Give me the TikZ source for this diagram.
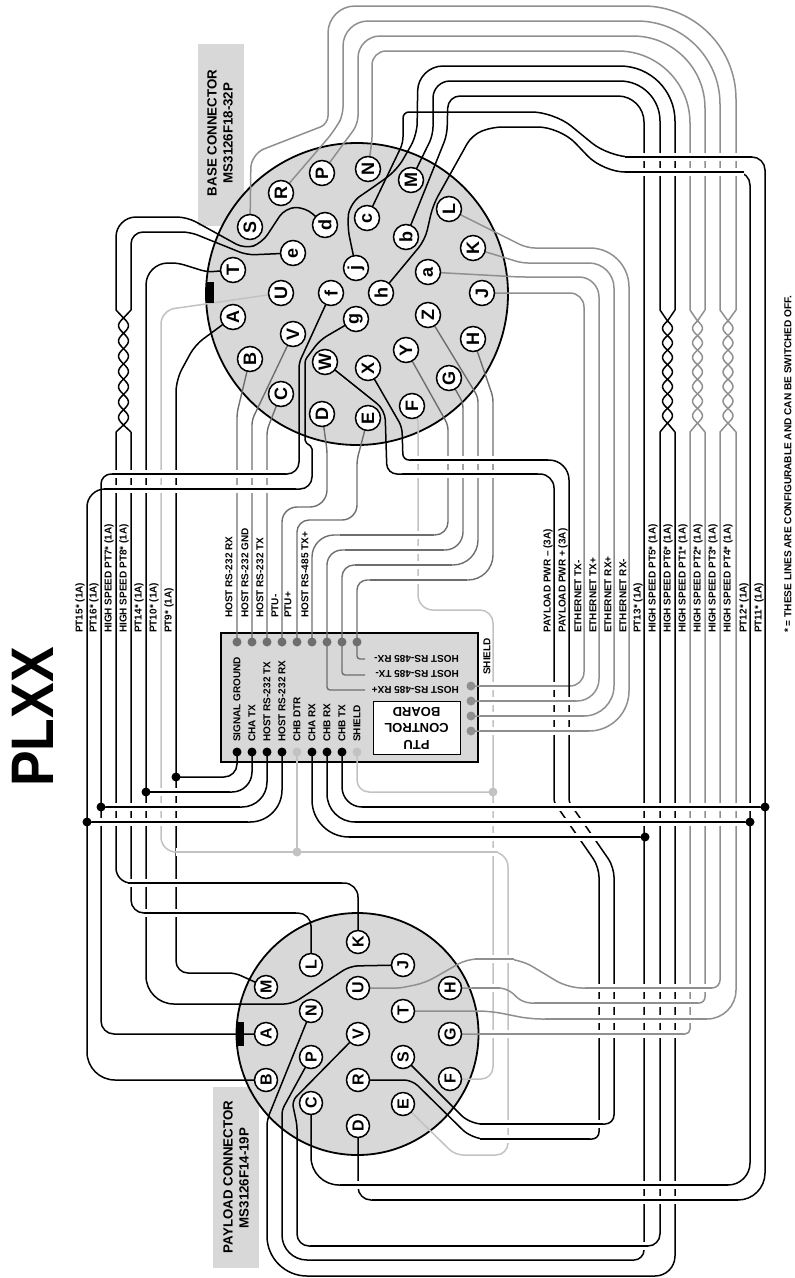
\documentclass[tikz,border=0pt]{standalone}
\usepackage{fontspec}
\setmainfont{Liberation Sans}
\pgfdeclarelayer{bg}\pgfdeclarelayer{wires}\pgfdeclarelayer{runs}
\pgfsetlayers{bg,wires,runs,main}
\definecolor{disc}{HTML}{D8D8D8}
\definecolor{gline}{HTML}{8F8F8F}
\definecolor{mline}{HTML}{6E6E6E}
\definecolor{lline}{HTML}{C2C2C2}
\tikzset{
 blk/.style={draw=black,line width=1.5pt},
 gry/.style={draw=gline,line width=1.5pt},
 mid/.style={draw=mline,line width=1.4pt},
 lgt/.style={draw=lline,line width=1.5pt},
 rc/.style={rounded corners=#1pt},
 halo/.style={draw=white,line width=8pt},
 bpin/.style={circle,draw=black,fill=white,line width=1.5pt,minimum size=25pt,inner sep=0pt,rotate=90,font=\fontsize{18}{18}\selectfont\bfseries},
 ppin/.style={circle,draw=black,fill=white,line width=1.5pt,minimum size=23pt,inner sep=0pt,rotate=90,font=\fontsize{16}{16}\selectfont\bfseries},
 jdot/.style={circle,fill=black,minimum size=9pt,inner sep=0pt},
 pdot/.style={circle,fill=#1,minimum size=9pt,inner sep=0pt},
 lab/.style={rotate=90,anchor=west,inner sep=0pt,font=\fontsize{10}{12}\selectfont\bfseries},
 ttl/.style={rotate=90,inner sep=0pt,font=\fontsize{13.3}{15}\selectfont\bfseries},
 flip/.style={rotate=180,anchor=west,inner sep=0pt,font=\fontsize{10}{12}\selectfont\bfseries},
}
\newcommand\hrun[3]{\draw[halo] (#2)--(#3); \draw[#1] (#2)--(#3);}
\newcommand\twist[7]{\pgfmathsetmacro\tc{(#1+#2)/2}%
 \draw[#3] (#1,#4)--(\tc,#5) (#2,#4)--(\tc,#5) (#1,#7)--(\tc,#6) (#2,#7)--(\tc,#6);
 \draw[#3] plot[smooth,domain=0:7,samples=50] ({\tc+5*sin(180*\x)},{#5+\x*(#6-#5)/7});
 \draw[#3] plot[smooth,domain=0:7,samples=50] ({\tc-5*sin(180*\x)},{#5+\x*(#6-#5)/7});}
\begin{document}
\begin{tikzpicture}[x=1pt,y=-1pt]
\useasboundingbox (0,0) rectangle (795,1278);
\begin{pgfonlayer}{bg}
 \fill[disc] (198,44) rectangle (244,226);
 \fill[disc] (213,1087) rectangle (259,1268);
 \node[circle,draw=black,fill=disc,line width=1.8pt,minimum size=302pt,inner sep=0pt] (basedisc) at (357,294) {};
 \node[circle,draw=black,fill=disc,line width=1.8pt,minimum size=242pt,inner sep=0pt] (paydisc) at (357.5,1034) {};
 \draw[fill=disc,draw=black,line width=1.6pt] (221,633) rectangle (478,762);
\end{pgfonlayer}
% titles
\node[rotate=90,inner sep=0pt,xscale=.89,font=\fontsize{60}{60}\selectfont\bfseries] (title) at (33,717) {PLXX};
\node[ttl] (bt1) at (212,133) {BASE CONNECTOR};
\node[ttl] (bt2) at (228,133) {MS3126F18-32P};
\node[ttl] (pt1) at (228,1177) {PAYLOAD CONNECTOR};
\node[ttl] (pt2) at (244,1178) {MS3126F14-19P};
\node[lab,font=\fontsize{10.1}{11}\selectfont\bfseries] (note) at (788,633) {* = THESE LINES ARE CONFIGURABLE AND CAN BE SWITCHED OFF.};
% pins
\foreach \n/\x/\y in {S/250/227,R/281/193,P/322/173,N/368/169,M/411/180,L/449/209,K/473/248,J/482/293,a/428/272,b/406/237,c/367/218,d/325/225,e/293/253,j/356/268,h/381/293,f/331/293,U/281/293,T/233/270,g/356/319,Z/428/315,H/473/339,Y/406/350,G/449/378,X/368/368,W/325/362,V/293/334,A/233/317,B/250/359,C/281/394,D/322/414,E/368/418,F/412/406}
 \node[bpin] (b\n) at (\x,\y) {\n};
\foreach \n/\x/\y in {K/358/942,L/311/965,M/266/987,N/311/1011,A/266/1034,P/311/1057,B/266/1080,C/311/1103,U/358/988,V/358/1034,R/358/1080,D/358/1126,J/403/965,H/450/988,T/403/1011,G/450/1034,S/403/1057,F/450/1079,E/403/1104}
 \node[ppin] (p\n) at (\x,\y) {\n};
\node[fill=black,minimum width=8.5pt,minimum height=21pt,inner sep=0pt] (bkey) at (210,292) {};
\node[fill=black,minimum width=8.5pt,minimum height=24pt,inner sep=0pt] (pkey) at (240,1034) {};
% box dots and labels
\foreach \n/\x in {1/237,2/252,3/267,4/282,5/297,6/312,7/327,8/342,9/357}
 \node[pdot=mline] (t\n) at (\x,642) {};
\foreach \n/\x/\c in {1/237/black,2/252/black,3/267/black,4/282/black,5/297/lline,6/312/black,7/327/black,8/342/black,9/357/lline}
 \node[pdot=\c] (m\n) at (\x,752) {};
\foreach \n/\y in {1/686,2/701,3/716,4/731}
 \node[pdot=gline] (r\n) at (471,\y) {};
\foreach \n/\x/\t in {1/237/SIGNAL GROUND,2/252/CHA TX,3/267/HOST RS-232 TX,4/282/HOST RS-232 RX,5/297/CHB DTR,6/312/CHA RX,7/327/CHB RX,8/342/CHB TX,9/357/SHIELD}
 \node[lab] (ml\n) at (\x,742) {\t};
\node[lab] (shl) at (487,675) {SHIELD};
\node[flip] (f1) at (459,659) {HOST RS-485 RX-};
\node[flip] (f2) at (459,674) {HOST RS-485 TX-};
\node[flip] (f3) at (459,690) {HOST RS-485 RX+};
\node[draw=black,fill=white,line width=1pt,minimum width=87pt,minimum height=53pt,inner sep=0pt] (ptubox) at (416.5,727.5) {};
\node[rotate=180,align=center,inner sep=0pt,font=\fontsize{13}{16.5}\selectfont\bfseries] (ptutxt) at (416.5,728) {PTU\\CONTROL\\BOARD};
% wire labels
\foreach \n/\x/\t in {1/80/PT15* (1A),2/94/PT16* (1A),3/109/HIGH SPEED PT7* (1A),4/124/HIGH SPEED PT8* (1A),5/139/PT14* (1A),6/154/PT10* (1A),7/169/PT9* (1A),
 8/548/PAYLOAD PWR – (3A),9/563/PAYLOAD PWR + (3A),10/578/ETHERNET TX-,11/593/ETHERNET TX+,12/608/ETHERNET RX+,13/623/ETHERNET RX-,14/638/PT13* (1A),15/653/HIGH SPEED PT5* (1A),16/668/HIGH SPEED PT6* (1A),17/683/HIGH SPEED PT1* (1A),18/698/HIGH SPEED PT2* (1A),19/713/HIGH SPEED PT3* (1A),20/728/HIGH SPEED PT4* (1A),21/744/PT12* (1A),22/759/PT11* (1A)}
 \node[lab] (w\n) at (\x,633) {\t};
\foreach \n/\x/\t in {1/229/HOST RS-232 RX,2/245/HOST RS-232 GND,3/260/HOST RS-232 TX,4/275/PTU-,5/288/PTU+,6/305/HOST RS-485 TX+}
 \node[lab] (hl\n) at (\x,618) {\t};
% junctions
\node[jdot] (jA) at (176,777) {};
\node[jdot] (jT) at (146,792) {};
\node[jdot] (jf) at (101,807) {};
\node[jdot] (jg) at (87,822) {};
\node[jdot] (jc) at (765,807) {};
\node[jdot] (jh) at (750,822) {};
\node[jdot] (jb) at (645,837) {};
\node[pdot=lline] (jD) at (297,852) {};
\node[pdot=lline] (jS) at (493,792) {};
\coordinate (e7) at (365,690);
\coordinate (e8) at (365,675);
\coordinate (e9) at (365,659);

\begin{pgfonlayer}{wires}
% top gray group
\draw[gry] (bS.center) [rc=14] -- (251,154) [rc=8] -- (328,124) [rc=27] -- (328,6) [rc=93] -- (736,6) -- (736,310);
\draw[gry] (bR.center) [rc=12] -- (335,130) [rc=8] -- (343,115) [rc=25] -- (343,21) [rc=83] -- (720,21) -- (720,310);
\draw[gry] (bP.center) [rc=8] -- (358,124) [rc=22] -- (358,36) [rc=72] -- (705,36) -- (705,310);
\draw[gry] (bN.center) [rc=3] -- (372,140) [rc=14] -- (372,51) [rc=72] -- (690,51) -- (690,310);
% twisted pairs
\twist{660}{675}{blk}{310}{321}{423}{432}
\twist{690}{705}{gry}{310}{321}{423}{432}
\twist{720}{736}{gry}{310}{321}{423}{432}
\twist{116}{131}{blk}{310}{318}{425}{432}
% black top group
\draw[blk,rc=12] (bj.center) -- (347,225) -- (350,203) -- (375,186) -- (397,170) -- (417,135) [rc=25] -- (418,66) [rc=55] -- (675,66) -- (675,310);
\draw[blk,rc=8] (bM.center) -- (433,135) [rc=17] -- (433,81) [rc=40] -- (660,81) -- (660,310);
\draw[blk,rc=8] (bb.center) -- (447,135) [rc=12] -- (448,96) [rc=26] -- (644,96) [rc=10] -- (644,1260) [rc=25] -- (282,1260) [rc=4] -- (282,1110) -- (pP.center);
\draw[blk,rc=6] (bc.center) -- (403,143) -- (403,112) [rc=22] -- (554,112) -- (609,157) [rc=13] -- (765,157) [rc=27] -- (765,1200) [rc=13] -- (358,1200) -- (pD.center);
\draw[blk,rc=10] (bh.center) -- (425,240) -- (433,205) -- (472,135) -- (492,127) [rc=22] -- (560,127) -- (603,172) [rc=13] -- (750,172) [rc=22] -- (750,1185) [rc=28] -- (311,1185) -- (pC.center);
% left pair
\draw[blk,rc=10] (bd.center) -- (305,207) -- (285,208) -- (262,243) -- (245,249) -- (187,217) [rc=20] -- (116,217) -- (116,310);
\draw[blk,rc=8] (be.center) -- (247,255) -- (190,232) [rc=12] -- (131,232) -- (131,310);
\draw[blk] (116,432) [rc=15] -- (116,883) [rc=14] -- (358,883) -- (pK.center);
\draw[blk,rc=13] (131,432) -- (131,913) -- (311,913) -- (pL.center);
\draw[blk,rc=6] (bT.center) -- (207,272) -- (178,263) [rc=22] -- (146,263) [rc=28] -- (146,1004) [rc=8] -- (292,1004) -- (350,966) -- (pJ.center);
\draw[blk,rc=10] (bA.center) -- (195,345) [rc=12] -- (176,380) -- (176,973) [rc=6] -- (235,973) -- (pM.center);
\draw[blk,rc=5] (bf.center) -- (299,363) [rc=12] -- (299,474) [rc=10] -- (101,474) [rc=13] -- (101,1034) -- (pA.center);
\draw[blk,rc=8] (bg.center) -- (320,340) [rc=3] -- (305,360) [rc=2] -- (305,442) -- (312,447) [rc=12] -- (312,489) [rc=18] -- (87,489) [rc=28] -- (87,1080) -- (pB.center);
% light gray
\draw[lgt,rc=6] (bU.center) -- (178,308) [rc=14] -- (161,310) [rc=15] -- (161,852) -- (508,852) [rc=12] -- (508,1155) [rc=8] -- (455,1155) -- (pE.center);
\draw[lgt,rc=3] (bF.center) -- (418,420) [rc=15] -- (418,610) [rc=13] -- (493,610) [rc=12] -- (493,1079) -- (pF.center);
\draw[lgt,rc=12] (m9.center) -- (357,792) -- (jS.center);
\draw[lgt] (m5.center) -- (jD.center);
% to PTU top
\draw[mid,rc=5] (bB.center) -- (237,413) -- (t1.center);
\draw[mid,rc=5] (bV.center) -- (252,420) -- (t2.center);
\draw[mid,rc=5] (bC.center) -- (267,430) -- (t3.center);
\draw[mid,rc=5] (bD.center) -- (327,450) [rc=17] -- (327,507) [rc=15] -- (282,507) -- (t4.center);
\draw[mid,rc=5] (bE.center) -- (357,460) [rc=15] -- (357,520) [rc=12] -- (297,520) -- (t5.center);
\draw[mid,rc=5] (bY.center) -- (448,425) [rc=13] -- (448,535) [rc=22] -- (312,535) -- (t6.center);
\draw[mid,rc=5] (bG.center) -- (463,403) [rc=18] -- (463,550) [rc=15] -- (327,550) -- (t7.center);
\draw[mid,rc=5] (bZ.center) -- (478,397) [rc=25] -- (478,565) [rc=12] -- (342,565) -- (t8.center);
\draw[mid,rc=5] (bH.center) -- (493,397) [rc=25] -- (493,580) [rc=10] -- (357,580) -- (t9.center);
\draw[mid,rc=3] (t7.center) -- (327,690) -- (e7);
\draw[mid,rc=3] (t8.center) -- (342,675) -- (e8);
\draw[mid,rc=3] (t9.center) -- (357,659) -- (e9);
% ethernet
\draw[gry,rc=8] (bL.center) -- (527,248) [rc=39] -- (629,248) [rc=40] -- (629,731) -- (r4.center);
\draw[gry,rc=6] (bK.center) -- (522,263) [rc=25] -- (614,263) [rc=30] -- (614,716) -- (r3.center);
\draw[gry,rc=6] (ba.center) -- (520,277) [rc=20] -- (599,277) [rc=22] -- (599,701) -- (r2.center);
\draw[gry,rc=14] (bJ.center) -- (584,293) -- (584,686) -- (r1.center);
% payload power
\draw[blk,rc=6] (bX.center) -- (402,427) -- (403,460) [rc=20] -- (569,460) [rc=3] -- (569,802) [rc=10] -- (614,867) [rc=9] -- (614,1124) [rc=12] -- (470,1124) -- (pS.center);
\draw[blk,rc=10] (bW.center) -- (385,410) -- (387,474) [rc=14] -- (554,474) [rc=3] -- (554,802) [rc=10] -- (599,867) [rc=7] -- (599,1139) [rc=13] -- (472,1139) [rc=8] -- (412,1080) -- (pR.center);
% PTU bottom
\draw[blk,rc=13] (m1.center) -- (237,777) -- (jA.center);
\draw[blk,rc=20] (m2.center) -- (252,792) -- (jT.center);
\draw[blk,rc=25] (m3.center) -- (267,807) -- (jf.center);
\draw[blk,rc=32] (m4.center) -- (282,822) -- (jg.center);
\draw[blk,rc=20] (m8.center) -- (342,807) -- (jc.center);
\draw[blk,rc=28] (m7.center) -- (327,822) -- (jh.center);
\draw[blk,rc=37] (m6.center) -- (312,837) -- (jb.center);
% lower parts of twisted pairs
\draw[blk] (675,432) [rc=20] -- (675,1276) [rc=40] -- (267,1276) [rc=6] -- (267,1120) -- (pN.center);
\draw[blk] (660,432) [rc=12] -- (660,1246) -- (297,1246) [rc=4] -- (297,1125) [rc=6] -- (292,1101) -- (pV.center);
\draw[gry] (736,432) [rc=29] -- (736,1019) [rc=12] -- (530,1019) -- (490,1011) -- (pT.center);
\draw[gry] (720,432) [rc=8] -- (720,988) [rc=14] -- (568,988) -- (520,959) [rc=10] -- (467,959) -- (425,983) [rc=3] -- (400,988) -- (pU.center);
\draw[gry] (705,432) [rc=6] -- (705,1003) [rc=8] -- (523,1003) -- (507,988) -- (pH.center);
\draw[gry] (690,432) [rc=5] -- (690,1034) -- (pG.center);
\end{pgfonlayer}

\begin{pgfonlayer}{runs}
\hrun{blk}{625,157}{752,157}\hrun{blk}{625,172}{744,172}
\hrun{blk}{112,474}{286,474}\hrun{blk}{104,489}{296,489}
\hrun{blk}{410,460}{548,460}\hrun{blk}{402,474}{538,474}
\hrun{mid}{340,535}{434,535}\hrun{mid}{345,550}{444,550}\hrun{mid}{355,565}{452,565}\hrun{mid}{370,580}{467,580}
\hrun{gry}{480,686}{568,686}\hrun{gry}{480,701}{576,701}\hrun{gry}{480,716}{584,716}\hrun{gry}{480,731}{589,731}
\hrun{blk}{150,792}{230,792}\hrun{blk}{106,807}{240,807}\hrun{blk}{92,822}{248,822}
\hrun{lgt}{176,852}{498,852}
\hrun{blk}{128,883}{342,883}\hrun{blk}{144,913}{296,913}
\hrun{blk}{362,807}{760,807}\hrun{blk}{355,822}{745,822}\hrun{blk}{349,837}{640,837}
\hrun{gry}{480,1034}{684,1034}
\hrun{gry}{585,988}{712,988}\hrun{gry}{534,1003}{698,1003}\hrun{gry}{545,1019}{707,1019}
\hrun{gry}{475,959}{514,959}\hrun{gry}{472,988}{500,988}
\hrun{blk}{480,1124}{603,1124}\hrun{blk}{480,1139}{590,1139}
\hrun{blk}{340,1185}{728,1185}\hrun{blk}{372,1200}{738,1200}\hrun{blk}{310,1246}{648,1246}
\end{pgfonlayer}
\end{tikzpicture}
\end{document}
